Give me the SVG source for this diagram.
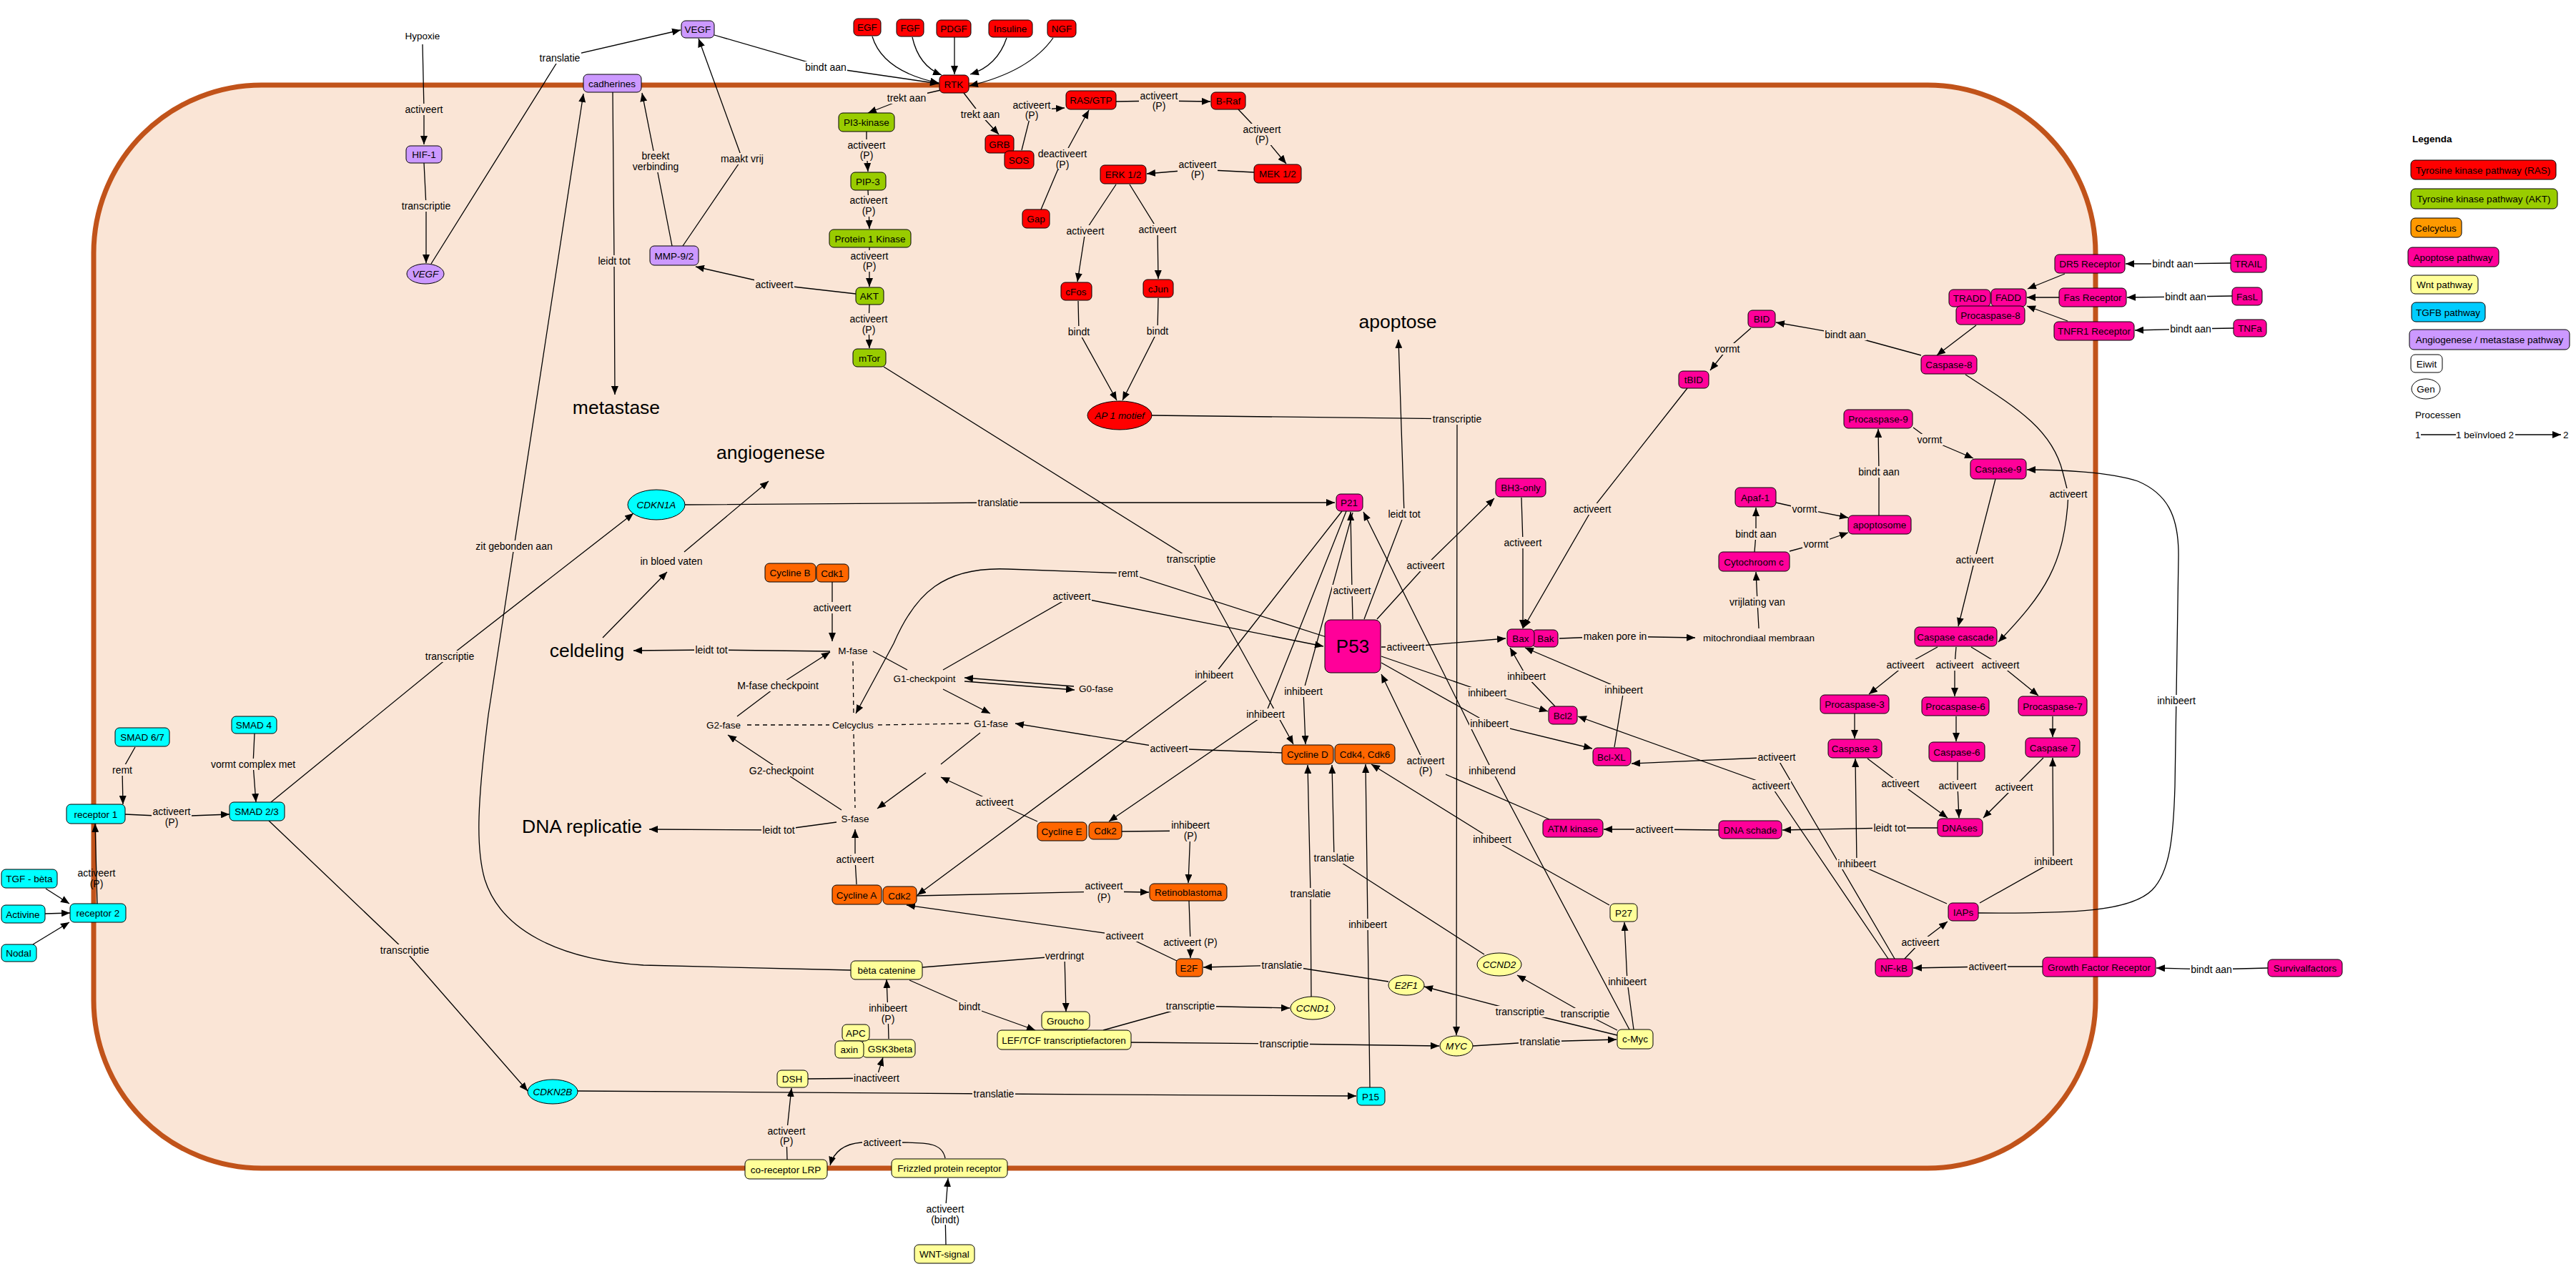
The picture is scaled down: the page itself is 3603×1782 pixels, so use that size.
<svg xmlns="http://www.w3.org/2000/svg" width="3603" height="1782" viewBox="0 0 3603 1782">
<defs>
<marker id="a" viewBox="0 0 12 10" refX="12" refY="5" markerWidth="12" markerHeight="10" markerUnits="userSpaceOnUse" orient="auto"><path d="M0,0L12,5L0,10z" fill="#000"/></marker>
<style>
.mem{fill:#fae5d6;stroke:#c1531a;stroke-width:7}
.c path{fill:none;stroke:#000;stroke-width:1.3;marker-end:url(#a)}
.c path.na{marker-end:none}
.c path.dash{stroke-dasharray:6,5;marker-end:none}
.n rect,.n ellipse{stroke:#000;stroke-width:1}
.r{fill:#ff0000}.g{fill:#99cc00}.o{fill:#ff6600}.m{fill:#ff0099}.y{fill:#ffff99}.cy{fill:#00ffff}.p{fill:#cc99ff}.w{fill:#ffffff}.or{fill:#ff9900}.tb{fill:#00ccff}
text{font-family:"Liberation Sans",Arial,sans-serif;fill:#000}
.n text{font-size:13.5px;text-anchor:middle;dominant-baseline:central}
.n text.i{font-style:italic}
.l rect{fill:#fae5d6}
.l rect.wb{fill:#ffffff}
.l text{font-size:14px;text-anchor:middle;dominant-baseline:central}
.n text.big{font-size:26.5px}
.n text.p53{font-size:26px}
.lg text{font-size:13.5px;dominant-baseline:central}
</style>
</defs>
<rect width="3603" height="1782" fill="#ffffff"/>
<rect id="membraan" class="mem" x="131" y="119" width="2800" height="1515" rx="235" ry="235"/>

<g id="connectors" class="c">
<path d="M591,62 L593,153 L593,202"/>
<path d="M593,228 L596,288 L596,368"/>
<path d="M603,369 L783,81 L952,42"/>
<path d="M999,49 L1155,94 L1313,117"/>
<path d="M955,344 L1038,222 L977,54"/>
<path d="M940,344 L917,226 L898,130"/>
<path d="M857,129 L859,365 L860,552"/>
<path d="M1197,411 L1083,398 L973,373"/>
<path d="M1190,1357 L900,1350 C780,1342 700,1300 678,1230 C665,1185 668,1120 683,1000 L816,131"/>
<path d="M1220,51 Q1235,100 1313,116"/>
<path d="M1276,52 Q1285,92 1317,105"/>
<path d="M1335,52 L1335,104"/>
<path d="M1408,53 Q1395,92 1357,104"/>
<path d="M1473,53 Q1440,100 1356,120"/>
<path d="M1316,126 L1268,137 L1214,158"/>
<path d="M1348,130 L1371,160 L1397,188"/>
<path d="M1429,210 L1443,154 L1489,151"/>
<path d="M1456,293 L1486,222 L1523,154"/>
<path d="M1561,142 L1621,141 L1693,142"/>
<path d="M1732,153 L1765,188 L1799,229"/>
<path d="M1754,241 L1675,237 L1604,243"/>
<path d="M1561,258 L1518,323 L1507,394"/>
<path d="M1580,258 L1619,321 L1620,390"/>
<path d="M1508,421 L1509,464 L1562,560"/>
<path d="M1620,417 L1619,463 L1570,560"/>
<path d="M1611,581 L2038,586 L2037,1448"/>
<path d="M1212,184 L1212,210 L1214,240"/>
<path d="M1214,266 L1215,288 L1216,320"/>
<path d="M1216,346 L1216,365 L1216,401"/>
<path d="M1216,426 L1215,453 L1216,487"/>
<path d="M1236,513 L1666,782 L1809,1041"/>
<path d="M1164,814 L1164,850 L1164,897"/>
<path d="M1161,911 L995,909 L886,910"/>
<path class="na" d="M1221,911 L1269,937"/>
<path d="M1502,960 L1349,948"/>
<path d="M1349,953 L1503,965"/>
<path d="M1319,964 L1385,998"/>
<path class="na" d="M1371,1025 L1316,1069"/>
<path d="M1295,1081 L1227,1131"/>
<path d="M1177,1133 L1093,1078 L1018,1028"/>
<path d="M1031,1002 L1088,959 L1161,912"/>
<path class="dash" d="M1193,925 L1194,1002"/>
<path class="dash" d="M1194,1027 L1196,1130"/>
<path class="dash" d="M1045,1014 L1160,1014"/>
<path class="dash" d="M1228,1014 L1355,1012"/>
<path d="M1170,1150 L1089,1161 L908,1160"/>
<path d="M1198,1237 L1196,1202 L1196,1160"/>
<path d="M1451,1149 L1391,1122 L1316,1087"/>
<path d="M1569,1163 L1665,1162 L1662,1235"/>
<path d="M1282,1253 L1544,1247 L1607,1248"/>
<path d="M1663,1260 L1665,1318 L1665,1340"/>
<path d="M1646,1344 L1573,1309 L1268,1266"/>
<path d="M1942,1373 L1793,1350 L1683,1353"/>
<path d="M1793,1053 L1635,1047 L1420,1012"/>
<path d="M1319,937 L1499,834 L1851,904"/>
<path d="M1855,891 L1578,802 L1410,796 C1320,792 1280,830 1250,900 L1197,998"/>
<path d="M958,706 L1396,703 L1867,703"/>
<path d="M1892,866 L1891,826 L1889,716"/>
<path d="M1908,866 L1964,719 L1956,475"/>
<path d="M1926,866 L1994,791 L2090,697"/>
<path d="M2128,696 L2130,759 L2130,879"/>
<path d="M1932,905 L1966,905 L2106,893"/>
<path d="M1932,918 L2080,969 L2165,995"/>
<path d="M1932,927 L2083,1012 L2227,1047"/>
<path d="M2175,988 L2135,946 L2112,906"/>
<path d="M2258,1045 L2271,965 L2133,906"/>
<path d="M2167,1146 L1994,1071 L1932,943"/>
<path d="M2360,543 L2227,712 L2131,878"/>
<path d="M2181,893 L2259,890 L2371,892"/>
<path d="M2460,879 L2458,842 L2456,800"/>
<path d="M2454,772 L2456,747 L2456,710"/>
<path d="M2484,703 L2524,712 L2585,724"/>
<path d="M2503,771 L2540,761 L2585,745"/>
<path d="M2628,721 L2628,660 L2627,600"/>
<path d="M2676,598 L2699,615 L2760,641"/>
<path d="M2791,670 L2762,783 L2739,876"/>
<path d="M2749,524 C2820,570 2870,600 2885,660 L2893,691 C2888,790 2860,830 2795,898"/>
<path d="M2687,497 L2581,468 L2484,451"/>
<path d="M2449,459 L2416,488 L2392,518"/>
<path d="M2888,383 L2836,404"/>
<path d="M2880,416 L2835,416"/>
<path d="M2892,449 L2835,428"/>
<path d="M3120,368 L3039,369 L2973,369"/>
<path d="M3122,414 L3057,415 L2975,416"/>
<path d="M3124,459 L3064,460 L2986,462"/>
<path d="M2764,455 L2709,497"/>
<path d="M2710,905 L2665,930 L2614,971"/>
<path d="M2736,905 L2734,930 L2734,974"/>
<path d="M2757,905 L2798,930 L2851,973"/>
<path d="M2594,998 L2594,1033"/>
<path d="M2736,1002 L2736,1037"/>
<path d="M2871,1002 L2871,1031"/>
<path d="M2612,1061 L2658,1096 L2724,1144"/>
<path d="M2738,1066 L2738,1099 L2740,1144"/>
<path d="M2858,1060 L2817,1101 L2774,1144"/>
<path d="M2710,1158 L2643,1158 L2493,1161"/>
<path d="M2404,1161 L2314,1160 L2243,1160"/>
<path d="M2650,1341 L2485,1059 L2282,1068"/>
<path d="M2641,1341 L2477,1099 L2207,1002"/>
<path d="M2664,1341 L2686,1318 L2724,1289"/>
<path d="M2723,1264 L2597,1208 L2595,1061"/>
<path d="M2769,1263 L2872,1205 L2871,1060"/>
<path d="M2767,1277 C2900,1278 2980,1275 3010,1245 C3035,1220 3040,1170 3042,1100 L3047,780 C3048,720 3030,690 2990,673 C2950,660 2880,657 2835,657"/>
<path d="M2857,1352 L2780,1352 L2676,1354"/>
<path d="M3172,1354 L3093,1356 L3016,1354"/>
<path d="M1877,715 L1698,944 L1283,1252"/>
<path d="M1883,715 L1770,999 L1551,1149"/>
<path d="M1892,717 L1823,967 L1826,1041"/>
<path d="M2279,1440 L2087,1078 L1907,716"/>
<path d="M2285,1440 L2276,1373 L2272,1290"/>
<path d="M2251,1266 L2087,1174 L1918,1069"/>
<path d="M1916,1521 L1913,1293 L1910,1069"/>
<path d="M1834,1394 L1833,1250 L1829,1070"/>
<path d="M2076,1335 L1866,1200 L1863,1070"/>
<path d="M2262,1448 L2126,1415 L1992,1380"/>
<path d="M2262,1441 L2217,1418 L2122,1364"/>
<path d="M2060,1463 L2154,1457 L2261,1454"/>
<path d="M1582,1458 L1796,1460 L2013,1463"/>
<path d="M1543,1441 L1665,1407 L1804,1410"/>
<path d="M808,1526 L1390,1530 L1897,1533"/>
<path d="M376,1148 L566,1329 L738,1526"/>
<path d="M379,1122 L629,918 L886,718"/>
<path d="M843,892 L933,800"/>
<path d="M957,772 L1075,673"/>
<path d="M189,1045 L171,1077 L172,1125"/>
<path d="M356,1026 L354,1069 L358,1122"/>
<path d="M175,1139 L240,1142 L321,1139"/>
<path d="M136,1264 L135,1228 L133,1152"/>
<path d="M64,1243 L97,1264"/>
<path d="M63,1278 L98,1277"/>
<path d="M46,1321 L97,1290"/>
<path d="M1290,1353 L1489,1337 L1491,1415"/>
<path d="M1272,1371 L1356,1408 L1448,1441"/>
<path d="M1243,1453 L1242,1417 L1240,1370"/>
<path d="M1130,1509 L1226,1508 L1235,1479"/>
<path d="M1101,1622 L1100,1589 L1107,1522"/>
<path d="M1322,1620 C1318,1600 1300,1598 1262,1598 L1205,1598 C1180,1600 1166,1612 1161,1630"/>
<path d="M1323,1741 L1322,1698 L1326,1648"/>
<path class="na" d="M3386,608 L3435,608"/>
<path d="M3518,608 L3582,608"/>
</g>

<g id="labels" class="l">
<rect x="565" y="145" width="56" height="16"/><text x="593" y="153">activeert</text>
<rect x="560" y="280" width="72" height="16"/><text x="596" y="288">transcriptie</text>
<rect class="wb" x="753" y="73" width="60" height="16"/><text x="783" y="81">translatie</text>
<rect class="wb" x="1125" y="86" width="60" height="16"/><text x="1155" y="94">bindt aan</text>
<rect x="1006" y="214" width="63" height="16"/><text x="1038" y="222">maakt vrij</text>
<rect x="883" y="211" width="68" height="30"/><text x="917" y="218">breekt</text><text x="917" y="233">verbinding</text>
<rect x="835" y="357" width="48" height="16"/><text x="859" y="365">leidt tot</text>
<rect x="1055" y="390" width="56" height="16"/><text x="1083" y="398">activeert</text>
<rect x="664" y="756" width="110" height="16"/><text x="719" y="764">zit gebonden aan</text>
<rect x="1239" y="129" width="58" height="16"/><text x="1268" y="137">trekt aan</text>
<rect x="1342" y="152" width="58" height="16"/><text x="1371" y="160">trekt aan</text>
<rect x="1415" y="139" width="56" height="30"/><text x="1443" y="147">activeert</text><text x="1443" y="161">(P)</text>
<rect x="1450" y="207" width="72" height="30"/><text x="1486" y="215">deactiveert</text><text x="1486" y="230">(P)</text>
<rect x="1593" y="126" width="56" height="30"/><text x="1621" y="134">activeert</text><text x="1621" y="148">(P)</text>
<rect x="1737" y="173" width="56" height="30"/><text x="1765" y="181">activeert</text><text x="1765" y="195">(P)</text>
<rect x="1647" y="222" width="56" height="30"/><text x="1675" y="230">activeert</text><text x="1675" y="244">(P)</text>
<rect x="1490" y="315" width="56" height="16"/><text x="1518" y="323">activeert</text>
<rect x="1591" y="313" width="56" height="16"/><text x="1619" y="321">activeert</text>
<rect x="1492" y="456" width="34" height="16"/><text x="1509" y="464">bindt</text>
<rect x="1602" y="455" width="34" height="16"/><text x="1619" y="463">bindt</text>
<rect x="2002" y="578" width="72" height="16"/><text x="2038" y="586">transcriptie</text>
<rect x="1184" y="195" width="56" height="30"/><text x="1212" y="203">activeert</text><text x="1212" y="217">(P)</text>
<rect x="1187" y="273" width="56" height="30"/><text x="1215" y="280">activeert</text><text x="1215" y="295">(P)</text>
<rect x="1188" y="350" width="56" height="30"/><text x="1216" y="358">activeert</text><text x="1216" y="372">(P)</text>
<rect x="1187" y="438" width="56" height="30"/><text x="1215" y="446">activeert</text><text x="1215" y="461">(P)</text>
<rect x="1630" y="774" width="72" height="16"/><text x="1666" y="782">transcriptie</text>
<rect x="1136" y="842" width="56" height="16"/><text x="1164" y="850">activeert</text>
<rect x="971" y="901" width="48" height="16"/><text x="995" y="909">leidt tot</text>
<rect x="1046" y="1070" width="93" height="16"/><text x="1093" y="1078">G2-checkpoint</text>
<rect x="1029" y="951" width="118" height="16"/><text x="1088" y="959">M-fase checkpoint</text>
<rect x="1065" y="1153" width="48" height="16"/><text x="1089" y="1161">leidt tot</text>
<rect x="1168" y="1194" width="56" height="16"/><text x="1196" y="1202">activeert</text>
<rect x="1363" y="1114" width="56" height="16"/><text x="1391" y="1122">activeert</text>
<rect x="1636" y="1147" width="58" height="30"/><text x="1665" y="1154">inhibeert</text><text x="1665" y="1169">(P)</text>
<rect x="1516" y="1232" width="56" height="30"/><text x="1544" y="1239">activeert</text><text x="1544" y="1255">(P)</text>
<rect x="1625" y="1310" width="80" height="16"/><text x="1665" y="1318">activeert (P)</text>
<rect x="1545" y="1301" width="56" height="16"/><text x="1573" y="1309">activeert</text>
<rect x="1763" y="1342" width="60" height="16"/><text x="1793" y="1350">translatie</text>
<rect x="1607" y="1039" width="56" height="16"/><text x="1635" y="1047">activeert</text>
<rect x="1471" y="826" width="56" height="16"/><text x="1499" y="834">activeert</text>
<rect x="1562" y="794" width="32" height="16"/><text x="1578" y="802">remt</text>
<rect x="1366" y="695" width="60" height="16"/><text x="1396" y="703">translatie</text>
<rect x="1863" y="818" width="56" height="16"/><text x="1891" y="826">activeert</text>
<rect x="1940" y="711" width="48" height="16"/><text x="1964" y="719">leidt tot</text>
<rect x="1966" y="783" width="56" height="16"/><text x="1994" y="791">activeert</text>
<rect x="2102" y="751" width="56" height="16"/><text x="2130" y="759">activeert</text>
<rect x="1938" y="897" width="56" height="16"/><text x="1966" y="905">activeert</text>
<rect x="2052" y="961" width="57" height="16"/><text x="2080" y="969">inhibeert</text>
<rect x="2055" y="1004" width="57" height="16"/><text x="2083" y="1012">inhibeert</text>
<rect x="2107" y="938" width="57" height="16"/><text x="2135" y="946">inhibeert</text>
<rect x="2243" y="957" width="57" height="16"/><text x="2271" y="965">inhibeert</text>
<rect x="1966" y="1056" width="56" height="30"/><text x="1994" y="1064">activeert</text><text x="1994" y="1078">(P)</text>
<rect x="2199" y="704" width="56" height="16"/><text x="2227" y="712">activeert</text>
<rect x="2213" y="882" width="92" height="16"/><text x="2259" y="890">maken pore in</text>
<rect x="2418" y="834" width="81" height="16"/><text x="2458" y="842">vrijlating van</text>
<rect x="2426" y="739" width="60" height="16"/><text x="2456" y="747">bindt aan</text>
<rect x="2505" y="704" width="38" height="16"/><text x="2524" y="712">vormt</text>
<rect x="2521" y="753" width="38" height="16"/><text x="2540" y="761">vormt</text>
<rect x="2598" y="652" width="60" height="16"/><text x="2628" y="660">bindt aan</text>
<rect x="2680" y="607" width="38" height="16"/><text x="2699" y="615">vormt</text>
<rect x="2734" y="775" width="56" height="16"/><text x="2762" y="783">activeert</text>
<rect x="2865" y="683" width="56" height="16"/><text x="2893" y="691">activeert</text>
<rect x="2551" y="460" width="60" height="16"/><text x="2581" y="468">bindt aan</text>
<rect x="2397" y="480" width="38" height="16"/><text x="2416" y="488">vormt</text>
<rect class="wb" x="3009" y="361" width="60" height="16"/><text x="3039" y="369">bindt aan</text>
<rect class="wb" x="3027" y="407" width="60" height="16"/><text x="3057" y="415">bindt aan</text>
<rect class="wb" x="3034" y="452" width="60" height="16"/><text x="3064" y="460">bindt aan</text>
<rect x="2637" y="922" width="56" height="16"/><text x="2665" y="930">activeert</text>
<rect x="2706" y="922" width="56" height="16"/><text x="2734" y="930">activeert</text>
<rect x="2770" y="922" width="56" height="16"/><text x="2798" y="930">activeert</text>
<rect x="2630" y="1088" width="56" height="16"/><text x="2658" y="1096">activeert</text>
<rect x="2710" y="1091" width="56" height="16"/><text x="2738" y="1099">activeert</text>
<rect x="2789" y="1093" width="56" height="16"/><text x="2817" y="1101">activeert</text>
<rect x="2619" y="1150" width="48" height="16"/><text x="2643" y="1158">leidt tot</text>
<rect x="2286" y="1152" width="56" height="16"/><text x="2314" y="1160">activeert</text>
<rect x="2457" y="1051" width="56" height="16"/><text x="2485" y="1059">activeert</text>
<rect x="2449" y="1091" width="56" height="16"/><text x="2477" y="1099">activeert</text>
<rect x="2658" y="1310" width="56" height="16"/><text x="2686" y="1318">activeert</text>
<rect x="2569" y="1200" width="57" height="16"/><text x="2597" y="1208">inhibeert</text>
<rect x="2844" y="1197" width="57" height="16"/><text x="2872" y="1205">inhibeert</text>
<rect class="wb" x="3016" y="972" width="57" height="16"/><text x="3044" y="980">inhibeert</text>
<rect x="2752" y="1344" width="56" height="16"/><text x="2780" y="1352">activeert</text>
<rect class="wb" x="3063" y="1348" width="60" height="16"/><text x="3093" y="1356">bindt aan</text>
<rect x="1670" y="936" width="57" height="16"/><text x="1698" y="944">inhibeert</text>
<rect x="1742" y="991" width="57" height="16"/><text x="1770" y="999">inhibeert</text>
<rect x="1795" y="959" width="57" height="16"/><text x="1823" y="967">inhibeert</text>
<rect x="2053" y="1070" width="68" height="16"/><text x="2087" y="1078">inhiberend</text>
<rect x="2248" y="1365" width="57" height="16"/><text x="2276" y="1373">inhibeert</text>
<rect x="2059" y="1166" width="57" height="16"/><text x="2087" y="1174">inhibeert</text>
<rect x="1885" y="1285" width="57" height="16"/><text x="1913" y="1293">inhibeert</text>
<rect x="1803" y="1242" width="60" height="16"/><text x="1833" y="1250">translatie</text>
<rect x="1836" y="1192" width="60" height="16"/><text x="1866" y="1200">translatie</text>
<rect x="2090" y="1407" width="72" height="16"/><text x="2126" y="1415">transcriptie</text>
<rect x="2181" y="1410" width="72" height="16"/><text x="2217" y="1418">transcriptie</text>
<rect x="2124" y="1449" width="60" height="16"/><text x="2154" y="1457">translatie</text>
<rect x="1760" y="1452" width="72" height="16"/><text x="1796" y="1460">transcriptie</text>
<rect x="1629" y="1399" width="72" height="16"/><text x="1665" y="1407">transcriptie</text>
<rect x="1360" y="1522" width="60" height="16"/><text x="1390" y="1530">translatie</text>
<rect x="530" y="1321" width="72" height="16"/><text x="566" y="1329">transcriptie</text>
<rect x="593" y="910" width="72" height="16"/><text x="629" y="918">transcriptie</text>
<rect x="894" y="777" width="90" height="16"/><text x="939" y="785">in bloed vaten</text>
<rect x="155" y="1069" width="32" height="16"/><text x="171" y="1077">remt</text>
<rect x="293" y="1061" width="122" height="16"/><text x="354" y="1069">vormt complex met</text>
<rect x="212" y="1127" width="56" height="30"/><text x="240" y="1135">activeert</text><text x="240" y="1150">(P)</text>
<text x="135" y="1221">activeert</text><text x="135" y="1236">(P)</text>
<rect x="1461" y="1329" width="57" height="16"/><text x="1489" y="1337">verdringt</text>
<rect x="1339" y="1400" width="34" height="16"/><text x="1356" y="1408">bindt</text>
<rect x="1213" y="1402" width="58" height="30"/><text x="1242" y="1410">inhibeert</text><text x="1242" y="1425">(P)</text>
<rect x="1193" y="1500" width="67" height="16"/><text x="1226" y="1508">inactiveert</text>
<rect x="1072" y="1574" width="56" height="30"/><text x="1100" y="1582">activeert</text><text x="1100" y="1596">(P)</text>
<rect x="1206" y="1590" width="56" height="16"/><text x="1234" y="1598">activeert</text>
<rect class="wb" x="1294" y="1683" width="56" height="30"/><text x="1322" y="1691">activeert</text><text x="1322" y="1706">(bindt)</text>
</g>

<g id="nodes" class="n">
<g id="hypoxie"><text x="591" y="50">Hypoxie</text></g>
<g id="hif1"><rect class="p" x="568" y="204" width="50" height="24" rx="6"/><text x="593" y="216">HIF-1</text></g>
<g id="vegf-gen"><ellipse class="p" cx="595" cy="383" rx="26" ry="14"/><text class="i" x="595" y="383">VEGF</text></g>
<g id="vegf"><rect class="p" x="953" y="29" width="46" height="24" rx="6"/><text x="976" y="41">VEGF</text></g>
<g id="cadherines"><rect class="p" x="816" y="104" width="81" height="25" rx="6"/><text x="856" y="117">cadherines</text></g>
<g id="mmp"><rect class="p" x="909" y="344" width="68" height="27" rx="6"/><text x="943" y="358">MMP-9/2</text></g>
<g id="metastase"><text class="big" x="862" y="570">metastase</text></g>
<g id="angiogenese"><text class="big" x="1078" y="633">angiogenese</text></g>
<g id="apoptose"><text class="big" x="1955" y="450">apoptose</text></g>
<g id="celdeling"><text class="big" x="821" y="910">celdeling</text></g>
<g id="dnareplicatie"><text class="big" x="814" y="1156">DNA replicatie</text></g>

<g id="egf"><rect class="r" x="1194" y="26" width="38" height="24" rx="6"/><text x="1213" y="38">EGF</text></g>
<g id="fgf"><rect class="r" x="1254" y="27" width="38" height="24" rx="6"/><text x="1273" y="39">FGF</text></g>
<g id="pdgf"><rect class="r" x="1310" y="28" width="48" height="24" rx="6"/><text x="1334" y="40">PDGF</text></g>
<g id="insuline"><rect class="r" x="1383" y="28" width="61" height="24" rx="6"/><text x="1413" y="40">Insuline</text></g>
<g id="ngf"><rect class="r" x="1465" y="28" width="40" height="24" rx="6"/><text x="1485" y="40">NGF</text></g>
<g id="rtk"><rect class="r" x="1314" y="105" width="41" height="25" rx="6"/><text x="1334" y="118">RTK</text></g>
<g id="grb"><rect class="r" x="1378" y="189" width="40" height="25" rx="6"/><text x="1398" y="202">GRB</text></g>
<g id="sos"><rect class="r" x="1405" y="211" width="41" height="25" rx="6"/><text x="1425" y="224">SOS</text></g>
<g id="rasgtp"><rect class="r" x="1491" y="127" width="70" height="26" rx="6"/><text x="1526" y="140">RAS/GTP</text></g>
<g id="braf"><rect class="r" x="1694" y="129" width="48" height="24" rx="6"/><text x="1718" y="141">B-Raf</text></g>
<g id="mek"><rect class="r" x="1754" y="230" width="66" height="26" rx="6"/><text x="1787" y="243">MEK 1/2</text></g>
<g id="erk"><rect class="r" x="1539" y="231" width="64" height="26" rx="6"/><text x="1571" y="244">ERK 1/2</text></g>
<g id="gap"><rect class="r" x="1430" y="293" width="38" height="26" rx="6"/><text x="1449" y="306">Gap</text></g>
<g id="cfos"><rect class="r" x="1484" y="395" width="43" height="25" rx="6"/><text x="1505" y="408">cFos</text></g>
<g id="cjun"><rect class="r" x="1599" y="391" width="42" height="25" rx="6"/><text x="1620" y="404">cJun</text></g>
<g id="ap1"><ellipse class="r" cx="1566" cy="581" rx="45" ry="20"/><text class="i" x="1566" y="581">AP 1 motief</text></g>

<g id="pi3k"><rect class="g" x="1173" y="158" width="78" height="26" rx="6"/><text x="1212" y="171">PI3-kinase</text></g>
<g id="pip3"><rect class="g" x="1190" y="241" width="49" height="25" rx="6"/><text x="1214" y="254">PIP-3</text></g>
<g id="p1k"><rect class="g" x="1160" y="321" width="114" height="25" rx="6"/><text x="1217" y="334">Protein 1 Kinase</text></g>
<g id="akt"><rect class="g" x="1197" y="402" width="39" height="24" rx="6"/><text x="1216" y="414">AKT</text></g>
<g id="mtor"><rect class="g" x="1193" y="488" width="46" height="25" rx="6"/><text x="1216" y="501">mTor</text></g>

<g id="cyclineb"><rect class="o" x="1070" y="788" width="71" height="26" rx="6"/><text x="1105" y="801">Cycline B</text></g>
<g id="cdk1"><rect class="o" x="1142" y="789" width="45" height="25" rx="6"/><text x="1164" y="802">Cdk1</text></g>
<g id="mfase"><text x="1193" y="910">M-fase</text></g>
<g id="g1checkpoint"><text x="1293" y="949">G1-checkpoint</text></g>
<g id="g0fase"><text x="1533" y="963">G0-fase</text></g>
<g id="g1fase"><text x="1386" y="1012">G1-fase</text></g>
<g id="celcyclus"><text x="1193" y="1014">Celcyclus</text></g>
<g id="g2fase"><text x="1012" y="1014">G2-fase</text></g>
<g id="sfase"><text x="1196" y="1145">S-fase</text></g>
<g id="cyclinee"><rect class="o" x="1451" y="1150" width="69" height="26" rx="6"/><text x="1485" y="1163">Cycline E</text></g>
<g id="cdk2e"><rect class="o" x="1523" y="1150" width="46" height="24" rx="6"/><text x="1546" y="1162">Cdk2</text></g>
<g id="cyclinea"><rect class="o" x="1164" y="1238" width="69" height="27" rx="6"/><text x="1198" y="1252">Cycline A</text></g>
<g id="cdk2a"><rect class="o" x="1235" y="1240" width="47" height="25" rx="6"/><text x="1258" y="1253">Cdk2</text></g>
<g id="retinoblastoma"><rect class="o" x="1608" y="1236" width="108" height="24" rx="6"/><text x="1662" y="1248">Retinoblastoma</text></g>
<g id="e2f"><rect class="o" x="1645" y="1341" width="37" height="25" rx="6"/><text x="1663" y="1354">E2F</text></g>
<g id="cyclined"><rect class="o" x="1793" y="1042" width="72" height="27" rx="6"/><text x="1829" y="1055">Cycline D</text></g>
<g id="cdk46"><rect class="o" x="1867" y="1041" width="84" height="27" rx="6"/><text x="1909" y="1055">Cdk4, Cdk6</text></g>

<g id="p21"><rect class="m" x="1869" y="691" width="37" height="24" rx="6"/><text x="1887" y="703">P21</text></g>
<g id="p53"><rect class="m" x="1853" y="867" width="78" height="74" rx="8"/><text class="p53" x="1892" y="904">P53</text></g>
<g id="bh3"><rect class="m" x="2092" y="669" width="70" height="26" rx="6"/><text x="2127" y="682">BH3-only</text></g>
<g id="bak"><rect class="m" x="2143" y="881" width="36" height="24" rx="6"/><text x="2162" y="893">Bak</text></g>
<g id="bax"><rect class="m" x="2108" y="880" width="38" height="25" rx="6"/><text x="2127" y="893">Bax</text></g>
<g id="mito"><text x="2460" y="892">mitochrondiaal membraan</text></g>
<g id="bcl2"><rect class="m" x="2166" y="988" width="40" height="25" rx="6"/><text x="2186" y="1001">Bcl2</text></g>
<g id="bclxl"><rect class="m" x="2228" y="1046" width="53" height="25" rx="6"/><text x="2254" y="1059">Bcl-XL</text></g>
<g id="atm"><rect class="m" x="2158" y="1146" width="84" height="25" rx="6"/><text x="2200" y="1159">ATM kinase</text></g>
<g id="dnaschade"><rect class="m" x="2404" y="1148" width="88" height="25" rx="6"/><text x="2448" y="1161">DNA schade</text></g>
<g id="cytc"><rect class="m" x="2404" y="772" width="99" height="27" rx="6"/><text x="2453" y="786">Cytochroom c</text></g>
<g id="apaf1"><rect class="m" x="2427" y="682" width="57" height="27" rx="6"/><text x="2455" y="696">Apaf-1</text></g>
<g id="apoptosome"><rect class="m" x="2585" y="721" width="88" height="26" rx="6"/><text x="2629" y="734">apoptosome</text></g>
<g id="procasp9"><rect class="m" x="2579" y="573" width="96" height="26" rx="6"/><text x="2627" y="586">Procaspase-9</text></g>
<g id="bid"><rect class="m" x="2445" y="434" width="38" height="24" rx="6"/><text x="2464" y="446">BID</text></g>
<g id="tbid"><rect class="m" x="2348" y="519" width="42" height="24" rx="6"/><text x="2369" y="531">tBID</text></g>
<g id="casp8"><rect class="m" x="2687" y="497" width="78" height="26" rx="6"/><text x="2726" y="510">Caspase-8</text></g>
<g id="tradd"><rect class="m" x="2726" y="405" width="58" height="24" rx="6"/><text x="2755" y="417">TRADD</text></g>
<g id="fadd"><rect class="m" x="2785" y="404" width="49" height="25" rx="6"/><text x="2809" y="416">FADD</text></g>
<g id="procasp8"><rect class="m" x="2736" y="428" width="96" height="26" rx="6"/><text x="2784" y="441">Procaspase-8</text></g>
<g id="dr5"><rect class="m" x="2874" y="356" width="98" height="26" rx="6"/><text x="2923" y="369">DR5 Receptor</text></g>
<g id="fasr"><rect class="m" x="2880" y="403" width="94" height="26" rx="6"/><text x="2927" y="416">Fas Receptor</text></g>
<g id="tnfr1"><rect class="m" x="2873" y="450" width="112" height="26" rx="6"/><text x="2929" y="463">TNFR1 Receptor</text></g>
<g id="trail"><rect class="m" x="3120" y="356" width="50" height="25" rx="6"/><text x="3145" y="369">TRAIL</text></g>
<g id="fasl"><rect class="m" x="3122" y="402" width="42" height="25" rx="6"/><text x="3143" y="415">FasL</text></g>
<g id="tnfa"><rect class="m" x="3124" y="447" width="46" height="24" rx="6"/><text x="3147" y="459">TNFa</text></g>
<g id="casp9"><rect class="m" x="2756" y="642" width="78" height="28" rx="6"/><text x="2795" y="656">Caspase-9</text></g>
<g id="cascade"><rect class="m" x="2678" y="877" width="115" height="27" rx="6"/><text x="2735" y="891">Caspase cascade</text></g>
<g id="procasp3"><rect class="m" x="2546" y="972" width="96" height="26" rx="6"/><text x="2594" y="985">Procaspase-3</text></g>
<g id="procasp6"><rect class="m" x="2688" y="975" width="94" height="26" rx="6"/><text x="2735" y="988">Procaspase-6</text></g>
<g id="procasp7"><rect class="m" x="2823" y="974" width="96" height="27" rx="6"/><text x="2871" y="988">Procaspase-7</text></g>
<g id="casp3"><rect class="m" x="2557" y="1034" width="75" height="26" rx="6"/><text x="2594" y="1047">Caspase 3</text></g>
<g id="casp6"><rect class="m" x="2698" y="1038" width="78" height="27" rx="6"/><text x="2737" y="1052">Caspase-6</text></g>
<g id="casp7"><rect class="m" x="2833" y="1032" width="76" height="27" rx="6"/><text x="2871" y="1046">Caspase 7</text></g>
<g id="dnases"><rect class="m" x="2710" y="1145" width="63" height="25" rx="6"/><text x="2741" y="1158">DNAses</text></g>
<g id="iaps"><rect class="m" x="2725" y="1263" width="42" height="25" rx="6"/><text x="2746" y="1276">IAPs</text></g>
<g id="nfkb"><rect class="m" x="2623" y="1341" width="52" height="25" rx="6"/><text x="2649" y="1354">NF-kB</text></g>
<g id="gfr"><rect class="m" x="2857" y="1339" width="158" height="27" rx="6"/><text x="2936" y="1353">Growth Factor Receptor</text></g>
<g id="survival"><rect class="m" x="3172" y="1342" width="104" height="24" rx="6"/><text x="3224" y="1354">Survivalfactors</text></g>

<g id="smad67"><rect class="cy" x="161" y="1018" width="76" height="26" rx="6"/><text x="199" y="1031">SMAD 6/7</text></g>
<g id="smad4"><rect class="cy" x="324" y="1002" width="63" height="24" rx="6"/><text x="355" y="1014">SMAD 4</text></g>
<g id="receptor1"><rect class="cy" x="93" y="1125" width="82" height="27" rx="6"/><text x="134" y="1139">receptor 1</text></g>
<g id="smad23"><rect class="cy" x="321" y="1122" width="77" height="26" rx="6"/><text x="359" y="1135">SMAD 2/3</text></g>
<g id="tgfb"><rect class="cy" x="2" y="1216" width="78" height="26" rx="6"/><text x="41" y="1229">TGF - bèta</text></g>
<g id="activine"><rect class="cy" x="2" y="1266" width="61" height="25" rx="6"/><text x="32" y="1279">Activine</text></g>
<g id="nodal"><rect class="cy" x="2" y="1321" width="49" height="24" rx="6"/><text x="26" y="1333">Nodal</text></g>
<g id="receptor2"><rect class="cy" x="98" y="1264" width="78" height="26" rx="6"/><text x="137" y="1277">receptor 2</text></g>
<g id="cdkn1a"><ellipse class="cy" cx="918" cy="706" rx="40" ry="21"/><text class="i" x="918" y="706">CDKN1A</text></g>
<g id="cdkn2b"><ellipse class="cy" cx="773" cy="1527" rx="35" ry="17"/><text class="i" x="773" y="1527">CDKN2B</text></g>
<g id="p15"><rect class="cy" x="1898" y="1521" width="39" height="25" rx="6"/><text x="1917" y="1534">P15</text></g>

<g id="p27"><rect class="y" x="2252" y="1264" width="38" height="25" rx="6"/><text x="2271" y="1277">P27</text></g>
<g id="cmyc"><rect class="y" x="2262" y="1440" width="50" height="27" rx="6"/><text x="2287" y="1453">c-Myc</text></g>
<g id="e2f1"><ellipse class="y" cx="1967" cy="1378" rx="25" ry="14"/><text class="i" x="1967" y="1378">E2F1</text></g>
<g id="ccnd2"><ellipse class="y" cx="2097" cy="1349" rx="31" ry="16"/><text class="i" x="2097" y="1349">CCND2</text></g>
<g id="ccnd1"><ellipse class="y" cx="1836" cy="1410" rx="31" ry="16"/><text class="i" x="1836" y="1410">CCND1</text></g>
<g id="myc"><ellipse class="y" cx="2037" cy="1463" rx="23" ry="14"/><text class="i" x="2037" y="1463">MYC</text></g>
<g id="betacatenine"><rect class="y" x="1190" y="1344" width="100" height="26" rx="6"/><text x="1240" y="1357">bèta catenine</text></g>
<g id="groucho"><rect class="y" x="1457" y="1415" width="67" height="25" rx="6"/><text x="1490" y="1428">Groucho</text></g>
<g id="leftcf"><rect class="y" x="1395" y="1441" width="187" height="27" rx="6"/><text x="1488" y="1455">LEF/TCF transcriptiefactoren</text></g>
<g id="gsk3beta"><rect class="y" x="1206" y="1454" width="74" height="25" rx="6"/><text x="1245" y="1467">GSK3beta</text></g>
<g id="apc"><rect class="y" x="1178" y="1433" width="38" height="23" rx="6"/><text x="1197" y="1445">APC</text></g>
<g id="axin"><rect class="y" x="1168" y="1456" width="40" height="24" rx="6"/><text x="1188" y="1468">axin</text></g>
<g id="dsh"><rect class="y" x="1087" y="1497" width="43" height="24" rx="6"/><text x="1108" y="1509">DSH</text></g>
<g id="lrp"><rect class="y" x="1042" y="1622" width="115" height="27" rx="6"/><text x="1099" y="1636">co-receptor LRP</text></g>
<g id="frizzled"><rect class="y" x="1247" y="1621" width="162" height="26" rx="6"/><text x="1328" y="1634">Frizzled protein receptor</text></g>
<g id="wnt"><rect class="y" x="1279" y="1741" width="84" height="26" rx="6"/><text x="1321" y="1754">WNT-signal</text></g>
</g>

<g id="legenda" class="lg">
<text x="3374" y="194" font-weight="bold">Legenda</text>
<rect class="r" x="3372" y="224" width="203" height="27" rx="6" stroke="#000"/><text x="3473" y="238" text-anchor="middle">Tyrosine kinase pathway (RAS)</text>
<rect class="g" x="3372" y="264" width="205" height="28" rx="6" stroke="#000"/><text x="3474" y="278" text-anchor="middle">Tyrosine kinase pathway (AKT)</text>
<rect class="or" x="3372" y="305" width="71" height="27" rx="6" stroke="#000"/><text x="3407" y="319" text-anchor="middle">Celcyclus</text>
<rect class="m" x="3368" y="346" width="127" height="27" rx="6" stroke="#000"/><text x="3431" y="360" text-anchor="middle">Apoptose pathway</text>
<rect class="y" x="3372" y="385" width="94" height="26" rx="6" stroke="#000"/><text x="3419" y="398" text-anchor="middle">Wnt pathway</text>
<rect class="tb" x="3373" y="423" width="103" height="27" rx="6" stroke="#000"/><text x="3424" y="437" text-anchor="middle">TGFB pathway</text>
<rect class="p" x="3370" y="461" width="224" height="28" rx="6" stroke="#000"/><text x="3482" y="475" text-anchor="middle">Angiogenese / metastase pathway</text>
<rect class="w" x="3372" y="496" width="44" height="25" rx="6" stroke="#000"/><text x="3394" y="509" text-anchor="middle">Eiwit</text>
<ellipse class="w" cx="3393" cy="544" rx="20" ry="14" stroke="#000"/><text x="3393" y="544" text-anchor="middle">Gen</text>
<text x="3378" y="580">Processen</text>
<text x="3378" y="608">1</text>
<text x="3435" y="608">1 beïnvloed 2</text>
<text x="3585" y="608">2</text>
</g>
</svg>
